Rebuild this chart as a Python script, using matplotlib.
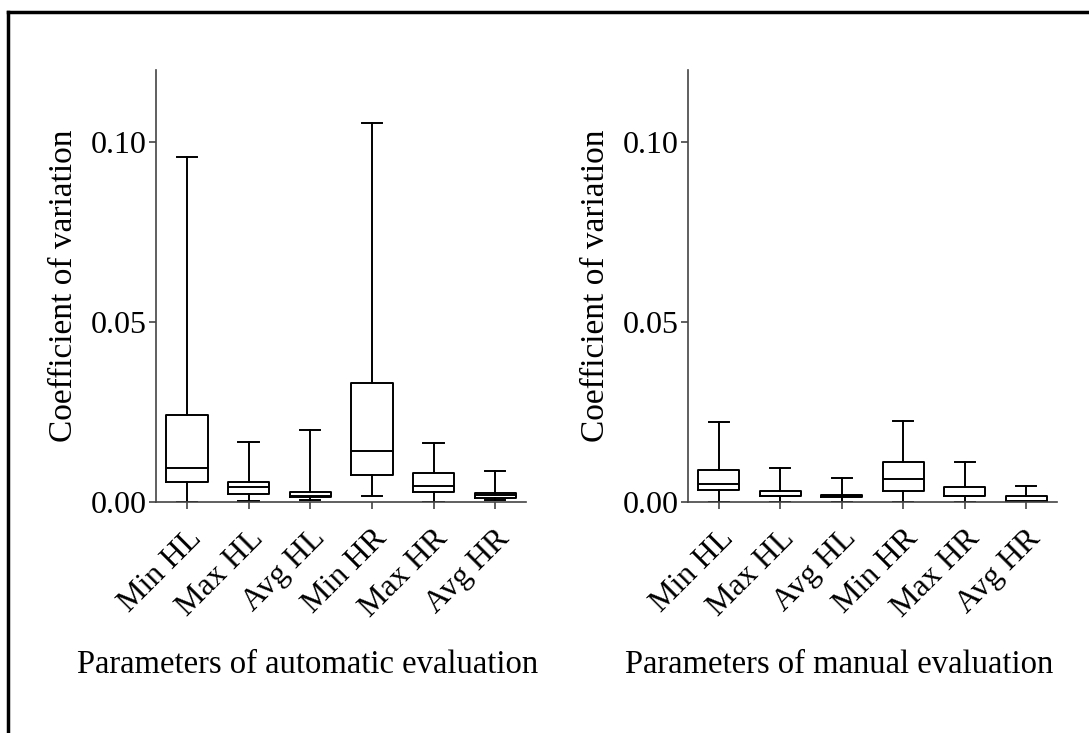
import matplotlib.pyplot as plt
from matplotlib.lines import Line2D

plt.rcParams['font.family'] = ['Liberation Serif', 'DejaVu Serif']

labels = ['Min HL', 'Max HL', 'Avg HL', 'Min HR', 'Max HR', 'Avg HR']

# automatic evaluation: whisker low, Q1, median, Q3, whisker high
auto_lo = [0.0000, 0.0001, 0.0004, 0.0017, 0.0000, 0.0004]
auto_q1 = [0.0055, 0.0022, 0.0012, 0.0074, 0.0027, 0.0010]
auto_med = [0.0094, 0.0041, 0.0016, 0.0142, 0.0044, 0.0019]
auto_q3 = [0.0242, 0.0056, 0.0028, 0.0329, 0.0079, 0.0025]
auto_hi = [0.0957, 0.0166, 0.0199, 0.1053, 0.0164, 0.0084]

# manual evaluation
man_lo = [0.0000, 0.0000, 0.0000, 0.0000, 0.0000, 0.0000]
man_q1 = [0.0033, 0.0015, 0.0014, 0.0030, 0.0015, 0.0000]
man_med = [0.0049, 0.0016, 0.0016, 0.0062, 0.0016, 0.0001]
man_q3 = [0.0088, 0.0030, 0.0018, 0.0111, 0.0042, 0.0017]
man_hi = [0.0221, 0.0094, 0.0066, 0.0224, 0.0110, 0.0043]


def make_stats(lo, q1, med, q3, hi):
    return [dict(label=l, whislo=a, q1=b, med=c, q3=d, whishi=e, fliers=[])
            for l, a, b, c, d, e in zip(labels, lo, q1, med, q3, hi)]


fig = plt.figure(figsize=(10.89, 7.33), dpi=100)
ax1 = fig.add_axes([0.1433, 0.3156, 0.3398, 0.5889])
ax2 = fig.add_axes([0.6318, 0.3156, 0.3388, 0.5889])

panels = [
    (ax1, make_stats(auto_lo, auto_q1, auto_med, auto_q3, auto_hi), 'Parameters of automatic evaluation'),
    (ax2, make_stats(man_lo, man_q1, man_med, man_q3, man_hi), 'Parameters of manual evaluation'),
]

line = dict(color='black', linewidth=1.4)
for ax, stats, xlab in panels:
    ax.bxp(stats, widths=0.67, capwidths=0.33, showfliers=False,
           boxprops=line, whiskerprops=line, capprops=line,
           medianprops=dict(color='black', linewidth=1.4))
    ax.set_xlim(0.5, 6.5)
    ax.set_ylim(0, 0.12)
    ax.set_yticks([0.0, 0.05, 0.10])
    ax.set_yticklabels(['0.00', '0.05', '0.10'])
    ax.spines['top'].set_visible(False)
    ax.spines['right'].set_visible(False)
    for s in ['left', 'bottom']:
        ax.spines[s].set_color('#444444')
        ax.spines[s].set_linewidth(1.2)
    ax.tick_params(axis='y', length=5, width=1.2, color='#444444', labelsize=23, pad=2)
    ax.tick_params(axis='x', length=5, width=1.2, color='#444444', pad=11)
    ax.set_xticklabels(labels, rotation=45, ha='right', rotation_mode='anchor', fontsize=23)
    ax.set_ylabel('Coefficient of variation', fontsize=24, labelpad=8)
    ax.text(0.41, -0.377, xlab, transform=ax.transAxes, ha='center', va='center', fontsize=23.5)

# partial frame (top and left edge)
fig.add_artist(Line2D([8 / 1089, 1.0], [1 - 12 / 733, 1 - 12 / 733],
                      transform=fig.transFigure, color='black', linewidth=2.5))
fig.add_artist(Line2D([8 / 1089, 8 / 1089], [0.0, 1 - 12 / 733],
                      transform=fig.transFigure, color='black', linewidth=2.5))

plt.savefig('out.png', dpi=100, facecolor='white')
